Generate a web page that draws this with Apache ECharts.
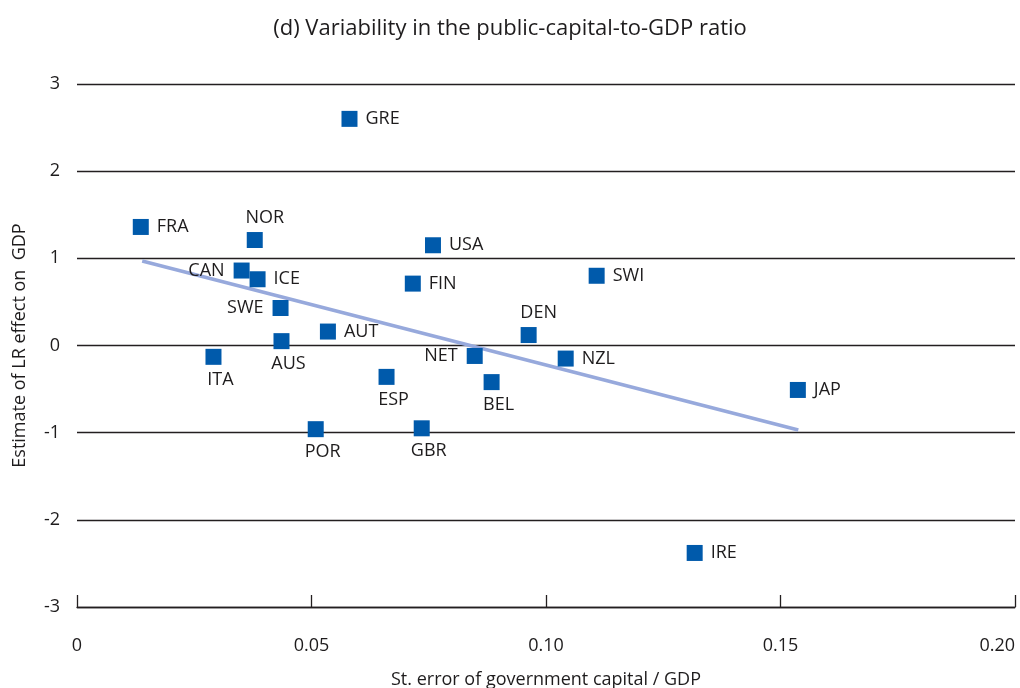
<!DOCTYPE html>
<html>
<head>
<meta charset="utf-8">
<script src="https://cdn.jsdelivr.net/npm/echarts@6/dist/echarts.min.js"></script>
<style>
html,body{margin:0;padding:0;background:#fff;overflow:hidden;}
#c{width:1020px;height:688px;}
</style>
</head>
<body>
<div id="c"></div>
<script>
// ---- data ----
const countries = ['FRA','GRE','NOR','USA','CAN','ICE','FIN','SWI','SWE','DEN','AUT','AUS','ITA','NET','NZL','ESP','BEL','JAP','GBR','POR','IRE'];
const stdErr    = [0.0136,0.0581,0.0379,0.0759,0.0351,0.0385,0.0716,0.1108,0.0434,0.0963,0.0535,0.0436,0.0291,0.0848,0.1042,0.0660,0.0884,0.1537,0.0735,0.0509,0.1317];
const lrEffect  = [1.36,2.60,1.21,1.15,0.86,0.76,0.71,0.80,0.43,0.12,0.16,0.05,-0.13,-0.12,-0.15,-0.36,-0.42,-0.51,-0.95,-0.96,-2.38];
const trendX    = [0.0139, 0.1538];
const trendY    = [0.97, -0.97];
const xTicks    = ['0','0.05','0.10','0.15','0.20'];
const yTicks    = ['-3','-2','-1','0','1','2','3'];

// label placement (styling)
const leftLab = ['CAN','SWE','NET'];
const topLab = ['NOR','DEN'];
const bottomLab = ['ITA','AUS','ESP','BEL','POR','GBR'];

const FONT = 'Open Sans';
const TXT = '#1e1c1d';

const pts = countries.map((c,i)=>{
  let label = {position:'right', distance:8};
  if (leftLab.includes(c)) label = {position:'left', distance:9};
  else if (topLab.includes(c)) label = {position:'top', distance:5, offset:[10,0]};
  else if (bottomLab.includes(c)) label = {position:'bottom', distance:6, offset:[7,0]};
  return {name:c, value:[stdErr[i], lrEffect[i]], label};
});

const chart = echarts.init(document.getElementById('c'));
chart.setOption({
  animation:false,
  backgroundColor:'#fff',
  title:{
    text:'(d) Variability in the public-capital-to-GDP ratio',
    left:'center', top:13,
    textStyle:{fontFamily:FONT, fontSize:22, fontWeight:'normal', color:TXT}
  },
  grid:{left:77, right:5, top:84, bottom:81, containLabel:false, outerBoundsMode:'none'},
  xAxis:{
    type:'value', min:0, max:0.2, interval:0.05,
    name:'St. error of government capital / GDP',
    nameLocation:'middle', nameGap:64,
    nameTextStyle:{fontFamily:FONT, fontSize:18, color:TXT},
    axisLine:{show:true, onZero:false, lineStyle:{color:'#231f20', width:1.3}},
    axisTick:{show:true, inside:true, length:12, lineStyle:{color:'#231f20', width:1.3}},
    splitLine:{show:false},
    axisLabel:{margin:30, fontFamily:FONT, fontSize:18, color:TXT,
      alignMaxLabel:'right',
      formatter:(v)=>xTicks[Math.round(v/0.05)]}
  },
  yAxis:{
    type:'value', min:-3, max:3, interval:1,
    name:'Estimate of LR effect on  GDP',
    nameLocation:'middle', nameGap:48, nameRotate:90,
    nameTextStyle:{fontFamily:FONT, fontSize:18, color:TXT},
    axisLine:{show:false}, axisTick:{show:false},
    splitLine:{show:true, lineStyle:{color:'#231f20', width:1.3}},
    axisLabel:{margin:17, fontFamily:FONT, fontSize:18, color:TXT,
      formatter:(v)=>yTicks[Math.round(v)+3]}
  },
  series:[
    {
      type:'line',
      data:trendX.map((x,i)=>[x,trendY[i]]),
      showSymbol:false, symbol:'none',
      lineStyle:{color:'#97a9dc', width:3.5},
      z:2, silent:true
    },
    {
      type:'scatter',
      data:pts,
      symbol:'rect', symbolSize:16,
      itemStyle:{color:'#005aab', opacity:1},
      label:{show:true, formatter:'{b}', fontFamily:FONT, fontSize:18, color:TXT},
      z:3
    }
  ]
});
</script>
</body>
</html>
